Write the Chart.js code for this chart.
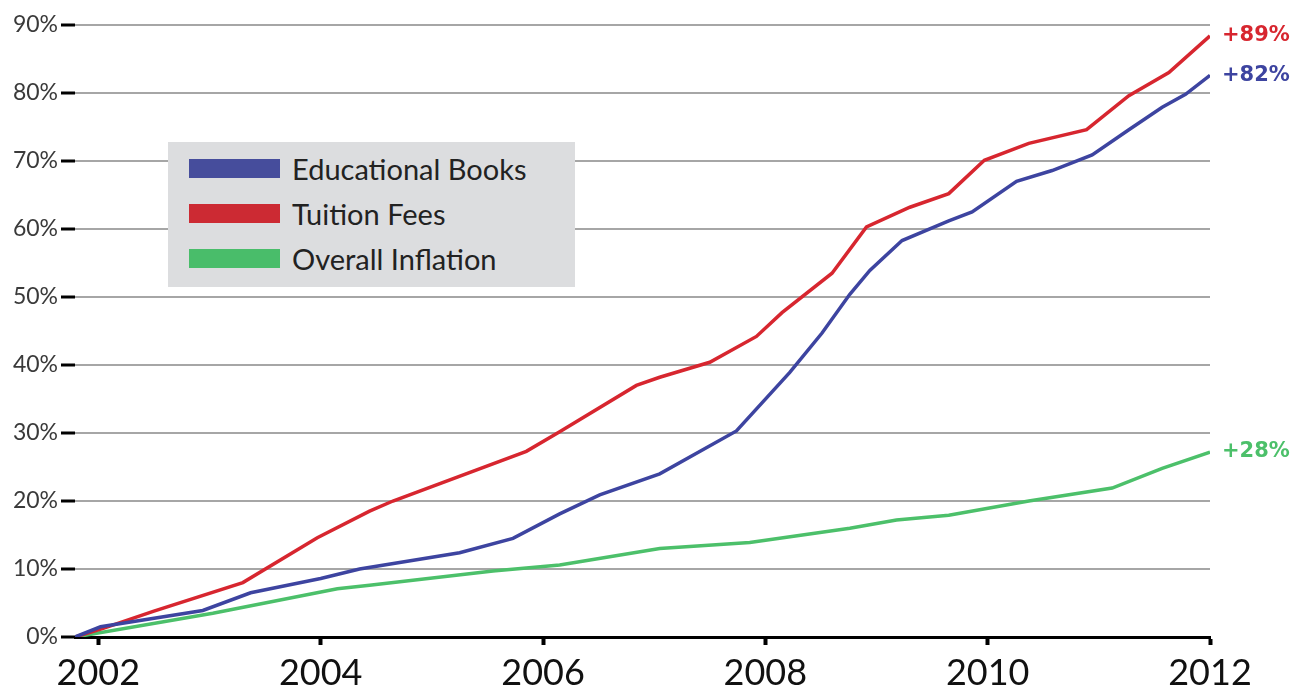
<!DOCTYPE html>
<html>
<head>
<meta charset="utf-8">
<script src="https://cdn.jsdelivr.net/npm/chart.js@4"></script>
<style>
  html, body { margin: 0; padding: 0; background: #fff; }
  #wrap { position: relative; width: 1305px; height: 689px; }
  #legend {
    position: absolute; left: 168px; top: 142px; width: 407px; height: 145px;
    background: #dcdddf; font-family: Lato, sans-serif; font-size: 29px; color: #222;
  }
  .item { position: absolute; left: 21px; height: 30px; display: flex; align-items: center; }
  .swatch { width: 91px; height: 19px; margin-right: 12px; }
</style>
</head>
<body>
<div id="wrap">
  <canvas id="myChart" width="1305" height="689"></canvas>
  <div id="legend"></div>
</div>
<script>
const seriesNames = ["Educational Books", "Tuition Fees", "Overall Inflation"];
const seriesColors = ["#3d44a0", "#d7262f", "#4cc06a"];
const swatchColors = ["#464d9c", "#cc2a33", "#49bd6a"];
const endLabels = ["+82%", "+89%", "+28%"];
const yTicks = [0, 10, 20, 30, 40, 50, 60, 70, 80, 90];
const xTicks = [2002, 2004, 2006, 2008, 2010, 2012];

const booksYears = [2001.79, 2002.02, 2002.94, 2003.37, 2004.0, 2004.35, 2005.25, 2005.73, 2006.15, 2006.51, 2007.05, 2007.74, 2008.22, 2008.51, 2008.76, 2008.94, 2009.23, 2009.65, 2009.86, 2010.26, 2010.58, 2010.94, 2011.27, 2011.57, 2011.78, 2012.0];
const booksValues = [0, 1.5, 3.9, 6.5, 8.6, 10.0, 12.4, 14.5, 18.1, 20.9, 24.0, 30.3, 38.9, 44.7, 50.4, 53.9, 58.3, 61.2, 62.5, 67.0, 68.6, 70.9, 74.6, 77.9, 79.8, 82.6];

const tuitionYears = [2001.79, 2002.05, 2002.5, 2003.3, 2003.97, 2004.44, 2004.65, 2005.85, 2006.15, 2006.84, 2007.05, 2007.5, 2007.92, 2008.15, 2008.6, 2008.91, 2009.3, 2009.65, 2009.97, 2010.37, 2010.89, 2011.27, 2011.63, 2012.0];
const tuitionValues = [0, 1.3, 3.8, 8.0, 14.6, 18.5, 20.0, 27.3, 30.2, 37.0, 38.2, 40.4, 44.2, 47.7, 53.5, 60.3, 63.2, 65.2, 70.1, 72.6, 74.6, 79.6, 83.0, 88.4];

const inflationYears = [2001.79, 2003.03, 2004.15, 2004.44, 2005.55, 2006.15, 2007.05, 2007.86, 2008.76, 2009.18, 2009.65, 2010.37, 2011.12, 2011.57, 2012.0];
const inflationValues = [0, 3.5, 7.1, 7.6, 9.7, 10.6, 13.0, 13.9, 16.0, 17.2, 17.9, 20.0, 21.9, 24.8, 27.2];

const seriesYears = [booksYears, tuitionYears, inflationYears];
const seriesValues = [booksValues, tuitionValues, inflationValues];

// legend box
const legend = document.getElementById("legend");
seriesNames.forEach((name, i) => {
  const item = document.createElement("div");
  item.className = "item";
  item.style.top = (11 + i * 45) + "px";
  item.innerHTML = `<span class="swatch" style="background:${swatchColors[i]}"></span><span>${name}</span>`;
  legend.appendChild(item);
});

// "+89%" style labels at the end of each line
const endLabelPlugin = {
  id: "endLabels",
  afterDatasetsDraw(chart) {
    const ctx = chart.ctx;
    chart.data.datasets.forEach((ds, i) => {
      const meta = chart.getDatasetMeta(i);
      const pt = meta.data[meta.data.length - 1];
      ctx.save();
      ctx.font = 'bold 21px "DejaVu Sans"';
      ctx.fillStyle = ds.borderColor;
      ctx.textBaseline = "middle";
      ctx.fillText(endLabels[i], pt.x + 12, pt.y);
      ctx.restore();
    });
  },
};

const ctx = document.getElementById("myChart").getContext("2d");
const myChart = new Chart(ctx, {
  type: "line",
  data: {
    datasets: seriesNames.map((name, i) => ({
      label: name,
      borderColor: seriesColors[i],
      borderWidth: 3.5,
      pointRadius: 0,
      tension: 0,
      data: seriesYears[i].map((x, j) => ({ x: x, y: seriesValues[i][j] })),
    })),
  },
  options: {
    responsive: false,
    animation: false,
    devicePixelRatio: 1,
    layout: { padding: { top: 25, right: 95, left: 0, bottom: 0 } },
    scales: {
      x: {
        type: "linear",
        min: 2001.79,
        max: 2012,
        afterBuildTicks: (scale) => {
          scale.ticks = xTicks.map((v) => ({ value: v }));
        },
        afterFit: (scale) => {
          scale.height = 52;
        },
        border: { display: true, color: "#000", width: 3 },
        grid: {
          drawOnChartArea: false,
          drawTicks: true,
          tickLength: 8,
          tickColor: "#000",
          tickWidth: 4,
        },
        ticks: {
          autoSkip: false,
          maxRotation: 0,
          padding: 7,
          color: "#111",
          font: { family: "Lato", size: 36 },
          callback: (v) => String(v),
        },
      },
      y: {
        min: 0,
        max: 90,
        afterBuildTicks: (scale) => {
          scale.ticks = yTicks.map((v) => ({ value: v }));
        },
        afterFit: (scale) => {
          scale.width = 75;
        },
        border: { display: false },
        grid: {
          color: "#a6a6a6",
          lineWidth: 2,
          tickLength: 14,
          tickColor: "#000",
          tickWidth: 3,
        },
        ticks: {
          padding: 3,
          color: "#3a3a3a",
          font: { family: "Lato", size: 23 },
          callback: (v) => v + "%",
        },
      },
    },
    plugins: {
      legend: { display: false },
      tooltip: { enabled: false },
    },
  },
  plugins: [endLabelPlugin],
});
</script>
</body>
</html>
